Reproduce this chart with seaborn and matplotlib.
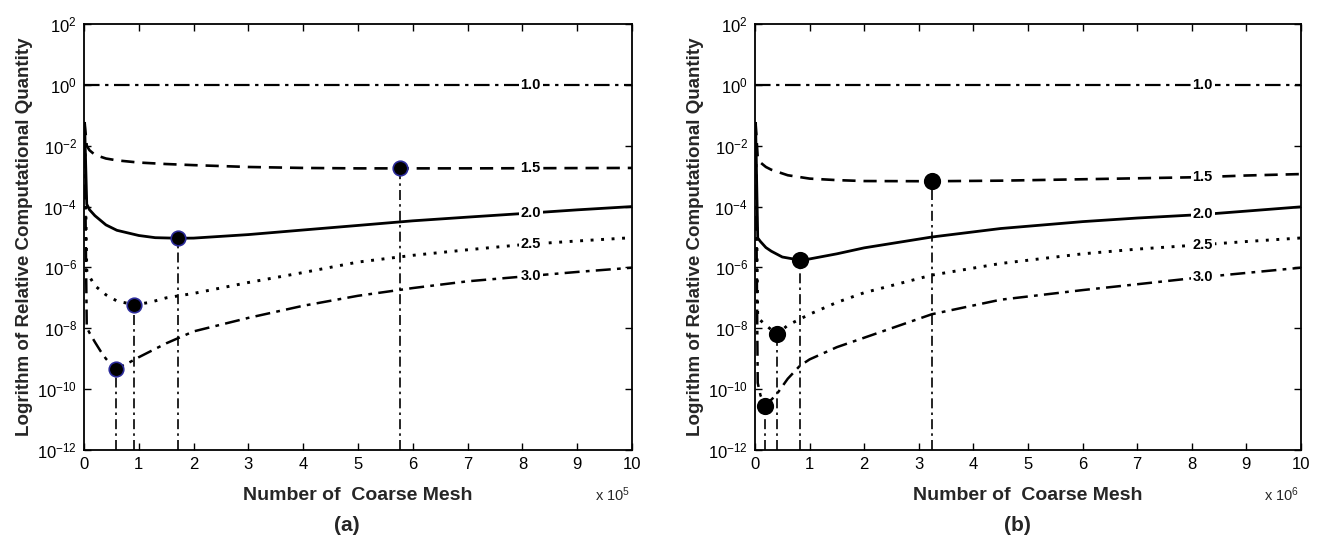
import numpy as np
import pandas as pd
import matplotlib
matplotlib.use("Agg")
import matplotlib.pyplot as plt
import seaborn as sns

# ---------------- data ----------------
# Panel (a): x in units of 1e5
a_x15 = [0.01, 0.05, 0.1, 0.2, 0.4, 0.6, 1.0, 1.5, 2.0, 3.0, 4.0, 5.0, 5.77, 7.0, 8.0, 9.0, 10.0]
a_y15 = [6e-2, 1.0e-2, 7.1e-3, 5.0e-3, 3.8e-3, 3.3e-3, 2.8e-3, 2.5e-3, 2.3e-3, 2.0e-3,
         1.86e-3, 1.8e-3, 1.8e-3, 1.8e-3, 1.82e-3, 1.84e-3, 1.86e-3]

a_x20 = [0.01, 0.05, 0.1, 0.2, 0.4, 0.6, 1.0, 1.3, 1.72, 2.0, 2.5, 3.0, 4.0, 5.0, 6.0, 7.0, 8.0, 9.0, 10.0]
a_y20 = [6e-2, 1.2e-4, 7.9e-5, 5.0e-5, 2.5e-5, 1.66e-5, 1.12e-5, 9.5e-6, 9.1e-6, 9.2e-6,
         1.05e-5, 1.2e-5, 1.7e-5, 2.4e-5, 3.4e-5, 4.5e-5, 5.9e-5, 7.8e-5, 1.0e-4]

a_x25 = [0.01, 0.05, 0.1, 0.2, 0.4, 0.6, 0.92, 1.2, 1.5, 2.0, 3.0, 4.0, 5.0, 6.0, 7.0, 8.0, 9.0, 10.0]
a_y25 = [6e-2, 7.9e-7, 5.0e-7, 2.5e-7, 1.26e-7, 7.9e-8, 5.9e-8, 7.1e-8, 1.0e-7, 1.4e-7,
         3.2e-7, 6.8e-7, 1.5e-6, 2.5e-6, 3.8e-6, 5.6e-6, 7.4e-6, 9.5e-6]

a_x30 = [0.01, 0.05, 0.1, 0.2, 0.3, 0.4, 0.5, 0.58, 0.8, 1.0, 1.5, 2.0, 3.0, 4.0, 5.0, 6.0, 7.0, 8.0, 9.0, 10.0]
a_y30 = [6e-2, 1.07e-8, 7.1e-9, 3.5e-9, 1.8e-9, 1.0e-9, 6.3e-10, 4.7e-10, 7.1e-10, 1.12e-9,
         3.2e-9, 7.9e-9, 2.2e-8, 5.5e-8, 1.17e-7, 2.1e-7, 3.5e-7, 5.0e-7, 7.1e-7, 9.8e-7]

a_mark_x = [0.58, 0.92, 1.72, 5.77]
a_mark_y = [4.7e-10, 5.9e-8, 9.1e-6, 1.8e-3]

# Panel (b): x in units of 1e6
b_x15 = [0.01, 0.05, 0.1, 0.2, 0.3, 0.6, 1.0, 1.5, 2.0, 3.24, 4.5, 6.0, 7.0, 8.2, 9.0, 10.0]
b_y15 = [6e-2, 4.0e-3, 2.8e-3, 2.0e-3, 1.62e-3, 1.07e-3, 8.3e-4, 7.4e-4, 6.9e-4, 6.8e-4,
         7.1e-4, 7.9e-4, 8.5e-4, 9.3e-4, 1.05e-3, 1.17e-3]

b_x20 = [0.01, 0.05, 0.1, 0.2, 0.3, 0.5, 0.82, 1.0, 1.5, 2.0, 3.24, 4.5, 6.0, 7.0, 8.2, 9.0, 10.0]
b_y20 = [6e-2, 9.3e-6, 7.1e-6, 4.5e-6, 3.4e-6, 2.2e-6, 1.74e-6, 1.9e-6, 2.8e-6, 4.4e-6,
         1.0e-5, 1.9e-5, 3.2e-5, 4.2e-5, 5.5e-5, 7.1e-5, 9.8e-5]

b_x25 = [0.01, 0.05, 0.2, 0.3, 0.4, 0.6, 1.0, 1.5, 2.0, 3.24, 4.5, 6.0, 7.0, 8.2, 9.0, 10.0]
b_y25 = [6e-2, 2.2e-8, 1.26e-8, 8.9e-9, 6.3e-9, 1.26e-8, 2.9e-8, 7.1e-8, 1.48e-7, 5.6e-7,
         1.35e-6, 2.8e-6, 4.0e-6, 5.6e-6, 7.1e-6, 9.3e-6]

b_x30 = [0.01, 0.05, 0.1, 0.18, 0.3, 0.4, 0.6, 0.82, 1.0, 1.5, 2.0, 3.24, 4.5, 6.0, 7.0, 8.2, 9.0, 10.0]
b_y30 = [6e-2, 1.6e-10, 6.3e-11, 2.9e-11, 4.5e-11, 6.9e-11, 2.2e-10, 5.8e-10, 9.5e-10, 2.4e-9,
         4.9e-9, 2.9e-8, 8.7e-8, 1.8e-7, 2.8e-7, 4.8e-7, 6.6e-7, 9.8e-7]

b_mark_x = [0.18, 0.40, 0.82, 3.24]
b_mark_y = [2.9e-11, 6.3e-9, 1.74e-6, 6.8e-4]

levels = ["1.0", "1.5", "2.0", "2.5", "3.0"]
y_ticks = [1e2, 1e0, 1e-2, 1e-4, 1e-6, 1e-8, 1e-10, 1e-12]
x_ticks = list(range(0, 11))

# ---------------- style ----------------
sns.set_style("ticks")
plt.rcParams["font.family"] = ["Liberation Sans", "DejaVu Sans"]
plt.rcParams["mathtext.fontset"] = "custom"
plt.rcParams["mathtext.rm"] = "Liberation Sans"
plt.rcParams["mathtext.it"] = "Liberation Sans"
plt.rcParams["mathtext.bf"] = "Liberation Sans:bold"

styles = {
    "1.0": dict(dashes=(7, 2.5, 1.5, 2.5), lw=1.6),
    "1.5": dict(dashes=(5, 3), lw=1.9),
    "2.0": dict(dashes=None, lw=2.0),
    "2.5": dict(dashes=(1.0, 2.6), lw=2.1),
    "3.0": dict(dashes=(6, 2.5, 1.5, 2.5), lw=1.8),
}

fig = plt.figure(figsize=(13.21, 5.43), dpi=100)
W, H = 1321, 543
axA = fig.add_axes([84 / W, 1 - 450 / H, (632 - 84) / W, (450 - 24) / H])
axB = fig.add_axes([755 / W, 1 - 450 / H, (1301 - 755) / W, (450 - 24) / H])


def draw(ax, curves, mark_x, mark_y, mark_edge, msize, label_x, exp, panel):
    for lev, (xs, ys) in zip(levels, curves):
        df = pd.DataFrame({"x": xs, "y": ys})
        st = styles[lev]
        sns.lineplot(data=df, x="x", y="y", ax=ax, color="black",
                     lw=st["lw"], estimator=None, sort=False, legend=False)
        ln = ax.lines[-1]
        if st["dashes"] is not None:
            ln.set_dashes(st["dashes"])
        ln.set_solid_capstyle("butt")
        ln.set_dash_capstyle("butt")
        ly = 10 ** np.interp(label_x, xs, np.log10(ys))
        ax.text(label_x, ly, lev, ha="center", va="center", fontsize=10.5,
                fontweight="bold", color="black", zorder=6,
                bbox=dict(boxstyle="square,pad=0.12", fc="white", ec="none"))
    # drop lines
    for mx, my in zip(mark_x, mark_y):
        ax.vlines(mx, 1e-12, my, colors="black", lw=1.2,
                  linestyles=(0, (6, 2.5, 1.5, 2.5)), zorder=3)
    mdf = pd.DataFrame({"x": mark_x, "y": mark_y})
    sns.scatterplot(data=mdf, x="x", y="y", ax=ax, s=msize, color="black",
                    edgecolor=mark_edge, linewidth=1.2, zorder=7, legend=False)
    ax.set_yscale("log")
    ax.set_xlim(0, 10)
    ax.set_ylim(1e-12, 1e2)
    ax.set_xticks(x_ticks)
    ax.set_xticklabels([str(t) for t in x_ticks])
    ax.set_yticks(y_ticks)
    ax.yaxis.set_minor_locator(matplotlib.ticker.NullLocator())
    ax.tick_params(direction="in", top=True, right=True, length=5, width=1,
                   labelsize=12, pad=5, colors="black")
    for sp in ax.spines.values():
        sp.set_linewidth(1.3)
        sp.set_color("black")
    ax.set_xlabel("Number of  Coarse Mesh", fontsize=14, fontweight="bold", labelpad=11)
    ax.text(0.965, -0.105, "x 10$^{%d}$" % exp, transform=ax.transAxes,
            ha="center", va="center", fontsize=10.5)
    ax.text(0.48, -0.177, panel, transform=ax.transAxes, ha="center", va="center",
            fontsize=15, fontweight="bold")
    ax.set_ylabel("Logrithm of Relative Computational Quantity", fontsize=13.5,
                  fontweight="bold", labelpad=3)


draw(axA,
     [([0, 10], [1, 1]), (a_x15, a_y15), (a_x20, a_y20), (a_x25, a_y25), (a_x30, a_y30)],
     a_mark_x, a_mark_y, "#2b2b9a", 110, 8.15, 5, "(a)")
draw(axB,
     [([0, 10], [1, 1]), (b_x15, b_y15), (b_x20, b_y20), (b_x25, b_y25), (b_x30, b_y30)],
     b_mark_x, b_mark_y, "black", 125, 8.2, 6, "(b)")

fig.savefig("out.png", dpi=100, facecolor="white")
